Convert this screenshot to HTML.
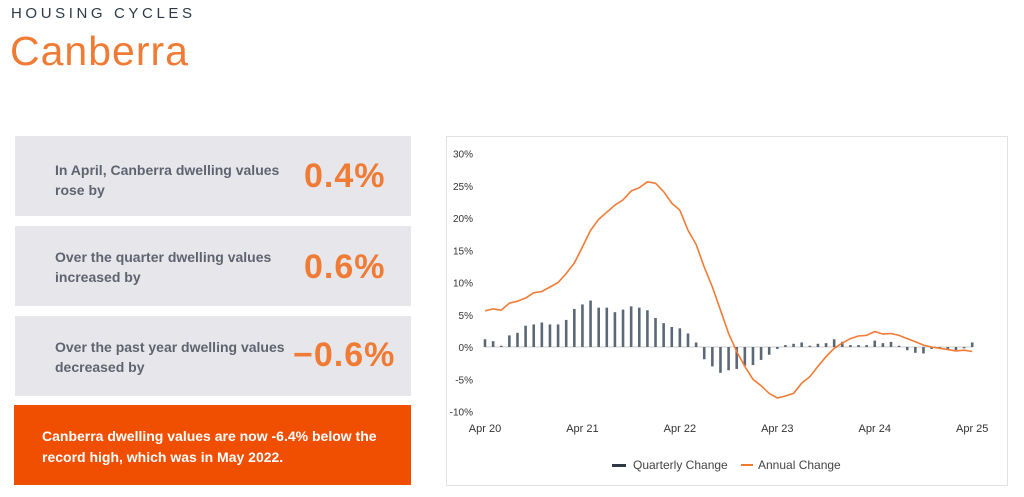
<!DOCTYPE html>
<html><head><meta charset="utf-8"><style>
body{margin:0;width:1024px;height:497px;background:#fff;position:relative;overflow:hidden;font-family:"Liberation Sans",sans-serif}
.abs{position:absolute}
.h1{left:11px;top:5px;font-size:15px;letter-spacing:3.6px;color:#2d3a45}
.h2{left:10px;top:28px;font-size:41px;letter-spacing:1px;color:#f07b35}
.box{position:absolute;left:15px;width:396px;height:80px;background:#e7e7eb}
.txt{position:absolute;left:40px;font-size:14px;font-weight:bold;color:#5f6370;line-height:20px}
.num{position:absolute;font-size:34px;font-weight:bold;color:#f07b35;letter-spacing:1px}
.ob{position:absolute;left:14px;top:405px;width:397px;height:80px;background:#f04e00;color:#fff;font-size:14px;font-weight:bold;line-height:21px}
</style></head><body>
<div class="abs h1">HOUSING CYCLES</div>
<div class="abs h2">Canberra</div>
<div class="box" style="top:136px"><div class="txt" style="top:24px">In April, Canberra dwelling values<br>rose by</div><div class="num" style="left:289px;top:21px">0.4%</div></div>
<div class="box" style="top:226px"><div class="txt" style="top:21px">Over the quarter dwelling values<br>increased by</div><div class="num" style="left:289px;top:22px">0.6%</div></div>
<div class="box" style="top:316px"><div class="txt" style="top:21px">Over the past year dwelling values<br>decreased by</div><div class="num" style="left:278px;top:20px">−0.6%</div></div>
<div class="ob"><div style="position:absolute;left:28px;top:21px">Canberra dwelling values are now -6.4% below the<br>record high, which was in May 2022.</div></div>
<svg class="abs" style="left:0;top:0" width="1024" height="497" id="s">
<rect x="446.5" y="136.5" width="561" height="349" fill="#fff" stroke="#e2e2e2"/>
<g font-size="10" fill="#333" font-family="Liberation Sans,sans-serif" text-anchor="end" id="yl"></g>
<line x1="485" y1="347" x2="973" y2="347" stroke="#ccc"/>
<g id="bars" fill="#5b6878"></g>
<polyline id="ln" fill="none" stroke="#f07b35" stroke-width="1.6"/>
<g font-size="11" fill="#333" text-anchor="middle" id="xl"></g>
<rect x="612" y="464" width="14" height="3" fill="#2d3a45"/>
<text x="633" y="469" font-size="12" fill="#444">Quarterly Change</text>
<rect x="741" y="464" width="12" height="2" fill="#f07b35"/>
<text x="758" y="469" font-size="12" fill="#444">Annual Change</text>
</svg>
<script>
var ns="http://www.w3.org/2000/svg";
function Y(v){return 347-v*6.45}
function X(i){return 485+i*8.12}
var yl=document.getElementById('yl');
for(var v=30;v>=-10;v-=5){var t=document.createElementNS(ns,'text');t.setAttribute('x',473);t.setAttribute('y',Y(v)+4);t.textContent=v+'%';yl.appendChild(t);}
var xl=document.getElementById('xl');
['Apr 20','Apr 21','Apr 22','Apr 23','Apr 24','Apr 25'].forEach(function(s,i){var t=document.createElementNS(ns,'text');t.setAttribute('x',X(i*12));t.setAttribute('y',432);t.textContent=s;xl.appendChild(t);});
var b=[1.2,0.9,0.2,1.8,2.2,3.3,3.5,3.8,3.5,3.5,4.2,5.9,6.6,7.2,6.1,6.1,5.4,5.8,6.3,6.1,5.7,4.5,3.7,3.1,2.9,2.1,0.7,-1.9,-3.0,-4.0,-3.6,-3.4,-2.9,-2.8,-2.0,-1.2,-0.3,0.3,0.5,0.7,0.2,0.5,0.6,1.2,0.8,0.3,0.3,0.3,1.0,0.6,0.8,0.2,-0.5,-0.9,-1.0,-0.3,-0.3,-0.4,-0.5,-0.2,0.7];
var g=document.getElementById('bars');
b.forEach(function(v,i){var r=document.createElementNS(ns,'rect');var y0=Y(Math.max(v,0)),h=Math.abs(v)*6.45;r.setAttribute('x',X(i)-1.3);r.setAttribute('y',y0);r.setAttribute('width',2.6);r.setAttribute('height',Math.max(h,0.6));g.appendChild(r);});
var a=[5.6,5.9,5.7,6.8,7.1,7.6,8.4,8.6,9.3,10.0,11.4,13.0,15.5,18.1,19.8,20.9,22.0,22.8,24.2,24.7,25.6,25.4,24.1,22.3,21.2,18.1,15.9,12.4,9.3,5.7,2.1,-0.7,-3.0,-5.0,-6.0,-7.2,-7.9,-7.6,-7.2,-5.6,-4.6,-3.0,-1.5,-0.2,0.6,1.3,1.7,1.8,2.4,2.0,2.1,1.8,1.3,0.8,0.3,0.0,-0.2,-0.4,-0.6,-0.5,-0.7];
document.getElementById('ln').setAttribute('points',a.map(function(v,i){return X(i).toFixed(1)+','+Y(v).toFixed(1)}).join(' '));
</script>
</body></html>
